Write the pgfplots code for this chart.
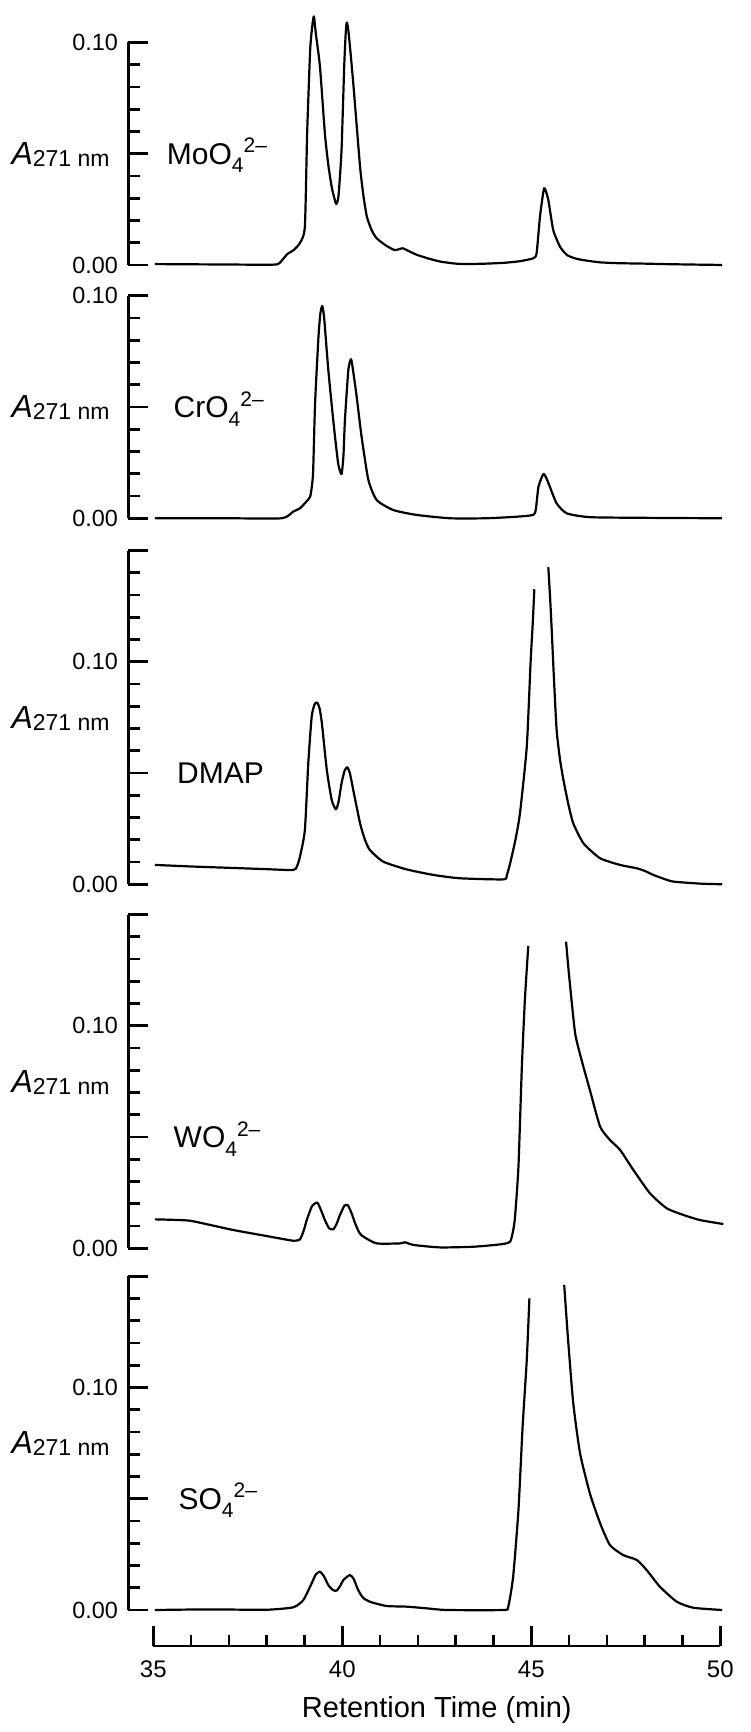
\documentclass[border=0pt]{standalone}
\usepackage{fontspec}
\setmainfont{Liberation Sans}
\usepackage{pgfplots}
\pgfplotsset{compat=1.18}

% label helpers
\newcommand{\absl}{{\fontsize{16}{16}\selectfont\itshape A}\raisebox{-1pt}{\fontsize{11.5}{12}\selectfont 271 nm}}
\newcommand{\ion}[1]{{\fontsize{15}{15}\selectfont #1\raisebox{-4.2pt}{\fontsize{10.5}{10}\selectfont 4}\raisebox{5.8pt}{\fontsize{10.5}{10}\selectfont 2--}}}

\pgfplotsset{
  panel/.style={scale only axis, width=296pt, xmin=34.339, xmax=50, ymin=0,
    clip=false, anchor=south west, axis x line=none, axis y line=left,
    axis line style={line width=1.3pt,-}, tick style={line width=1.3pt,black},
    tick align=inside, major tick length=10pt, minor tick length=6pt,
    scaled y ticks=false,
    yticklabel style={font=\fontsize{11.7}{12}\selectfont, inner sep=0pt, xshift=-5pt}},
  short/.style={panel, height=111.25pt, ymax=0.10, ytick={0,0.05,0.10},
    yticklabels={0.00,{},0.10}, minor ytick={0.01,0.02,0.03,0.04,0.06,0.07,0.08,0.09}},
  tall/.style={panel, height=166.875pt, ymax=0.15, ytick={0,0.05,0.10,0.15},
    yticklabels={0.00,{},0.10,{}},
    minor ytick={0.01,0.02,0.03,0.04,0.06,0.07,0.08,0.09,0.11,0.12,0.13,0.14}},
  trace/.style={black, line width=1.1pt, line join=round, mark=none, smooth, tension=0.35},
}

\begin{document}
\begin{tikzpicture}
\useasboundingbox (0,0) rectangle (375pt,866pt);

% MoO4
\begin{axis}[short, at={(64.15pt,733.5pt)}]
\addplot[trace] coordinates {(35.04,0.0004)(36.0,0.0003)(37.0,0.0002)(38.0,0.0001)(38.3,0.0004)(38.45,0.003)(38.55,0.005)(38.7,0.0065)(38.88,0.0099)(39.01,0.0172)(39.07,0.059)(39.15,0.0966)(39.21,0.108)(39.25,0.1117)(39.30,0.104)(39.41,0.089)(39.54,0.059)(39.63,0.045)(39.72,0.035)(39.79,0.030)(39.84,0.0274)(39.90,0.031)(39.98,0.0517)(40.05,0.089)(40.09,0.104)(40.12,0.109)(40.17,0.104)(40.29,0.0817)(40.47,0.0442)(40.56,0.031)(40.65,0.0217)(40.78,0.0155)(40.91,0.012)(41.15,0.0088)(41.38,0.0067)(41.50,0.0071)(41.60,0.0075)(41.75,0.0063)(41.98,0.0045)(42.3,0.0028)(42.6,0.0015)(43.0,0.0006)(43.3,0.0004)(43.8,0.0006)(44.3,0.001)(44.7,0.0017)(45.05,0.003)(45.14,0.0053)(45.23,0.0217)(45.34,0.0345)(45.45,0.0292)(45.58,0.0157)(45.76,0.0082)(45.94,0.0045)(46.15,0.003)(46.37,0.0022)(46.8,0.0012)(47.3,0.0008)(48.0,0.0006)(48.5,0.0004)(49.2,0.0002)(50.05,0.0)};
\node[anchor=base east, inner sep=0pt, xshift=-9.15pt, yshift=-5.3pt] at (rel axis cs:0,0.5) {\absl};
\node[anchor=base west, inner sep=0pt, yshift=-5.3pt] at (axis cs:35.35,0.05) {\ion{MoO}};
\end{axis}

% CrO4
\begin{axis}[short, at={(64.15pt,606.85pt)}]
\addplot[trace] coordinates {(35.04,0.0)(37.0,0.0)(38.4,0.0)(38.70,0.003)(38.88,0.0045)(39.05,0.0075)(39.15,0.0097)(39.20,0.015)(39.23,0.0217)(39.28,0.0517)(39.37,0.0816)(39.42,0.092)(39.47,0.0954)(39.52,0.090)(39.63,0.0667)(39.76,0.0442)(39.89,0.0247)(39.98,0.0199)(40.03,0.028)(40.07,0.0442)(40.16,0.0667)(40.23,0.0715)(40.28,0.067)(40.38,0.0547)(40.51,0.0367)(40.69,0.0172)(40.91,0.0082)(41.35,0.0037)(41.97,0.0015)(42.85,0.0)(43.8,0.0)(44.61,0.0007)(45.05,0.0015)(45.12,0.004)(45.19,0.0142)(45.32,0.0199)(45.40,0.018)(45.49,0.0142)(45.67,0.0067)(45.94,0.0022)(46.55,0.0005)(48.0,0.0002)(50.05,0.0)};
\node[anchor=base east, inner sep=0pt, xshift=-9.15pt, yshift=-5.3pt] at (rel axis cs:0,0.5) {\absl};
\node[anchor=base west, inner sep=0pt, yshift=-5.3pt] at (axis cs:35.53,0.05) {\ion{CrO}};
\end{axis}

% DMAP
\begin{axis}[tall, at={(64.15pt,423.85pt)}]
\addplot[trace] coordinates {(35.04,0.0087)(36.0,0.0080)(37.0,0.0074)(38.0,0.0068)(38.70,0.0064)(38.80,0.008)(38.88,0.0124)(39.01,0.0244)(39.10,0.0544)(39.19,0.0753)(39.27,0.081)(39.34,0.0816)(39.40,0.079)(39.46,0.0724)(39.59,0.0514)(39.72,0.0379)(39.83,0.0337)(39.90,0.037)(39.98,0.0454)(40.06,0.051)(40.13,0.0526)(40.20,0.050)(40.29,0.0424)(40.47,0.0274)(40.60,0.020)(40.73,0.0154)(41.08,0.0102)(41.70,0.0067)(42.41,0.0042)(43.11,0.0027)(44.26,0.0022)(44.35,0.004)(44.44,0.0094)(44.58,0.020)(44.70,0.0319)(44.88,0.0618)(44.98,0.0993)(45.04,0.118)(45.08,0.1326)};
\addplot[trace] coordinates {(45.45,0.1425)(45.50,0.128)(45.54,0.1143)(45.60,0.092)(45.67,0.0693)(45.76,0.056)(45.85,0.0469)(45.98,0.036)(46.11,0.0274)(46.38,0.0184)(46.82,0.0117)(47.35,0.0087)(47.79,0.0072)(48.0,0.006)(48.23,0.0042)(48.5,0.0025)(48.76,0.0012)(49.46,0.0003)(50.05,0.0)};
\node[anchor=base east, inner sep=0pt, xshift=-9.15pt, yshift=-5.3pt] at (rel axis cs:0,0.5) {\absl};
\node[anchor=base west, inner sep=0pt, yshift=-5.3pt] at (axis cs:35.62,0.05) {\fontsize{15}{15}\selectfont DMAP};
\end{axis}

% WO4
\begin{axis}[tall, at={(64.15pt,241.85pt)}]
\addplot[trace] coordinates {(35.04,0.0130)(35.5,0.0128)(35.97,0.0124)(36.5,0.0105)(37.12,0.0082)(38.0,0.0055)(38.70,0.0034)(38.88,0.0040)(38.98,0.008)(39.06,0.0127)(39.20,0.019)(39.34,0.0205)(39.44,0.017)(39.54,0.0127)(39.65,0.009)(39.76,0.0085)(39.85,0.011)(39.94,0.0150)(40.05,0.019)(40.14,0.0195)(40.24,0.016)(40.34,0.0112)(40.45,0.007)(40.56,0.0052)(40.91,0.0022)(41.53,0.0022)(41.66,0.0027)(41.88,0.0015)(42.58,0.0004)(43.47,0.0007)(44.2,0.0018)(44.44,0.003)(44.52,0.008)(44.57,0.0142)(44.66,0.0367)(44.75,0.0816)(44.83,0.1116)(44.92,0.1359)};
\addplot[trace] coordinates {(45.92,0.1378)(45.97,0.128)(46.02,0.1191)(46.16,0.0966)(46.33,0.0846)(46.55,0.0711)(46.82,0.0547)(47.08,0.0487)(47.35,0.0442)(47.70,0.0352)(48.14,0.0247)(48.58,0.0180)(49.02,0.0150)(49.46,0.0127)(50.08,0.0109)};
\node[anchor=base east, inner sep=0pt, xshift=-9.15pt, yshift=-5.3pt] at (rel axis cs:0,0.5) {\absl};
\node[anchor=base west, inner sep=0pt, yshift=-5.3pt] at (axis cs:35.53,0.05) {\ion{WO}};
\end{axis}

% SO4
\begin{axis}[tall, at={(64.15pt,61pt)}]
\addplot[trace] coordinates {(35.04,0.0)(36.0,0.0002)(37.0,0.0002)(38.0,0.0001)(38.70,0.0012)(38.97,0.0045)(39.19,0.012)(39.30,0.016)(39.41,0.0172)(39.52,0.015)(39.63,0.0112)(39.75,0.009)(39.85,0.0087)(39.95,0.011)(40.03,0.0135)(40.20,0.0157)(40.30,0.014)(40.42,0.009)(40.55,0.0055)(40.73,0.0037)(41.17,0.0018)(41.70,0.0015)(42.2,0.0008)(42.76,0.0)(44.26,0.0)(44.39,0.0015)(44.52,0.015)(44.66,0.0449)(44.77,0.0824)(44.88,0.1124)(44.95,0.1401)};
\addplot[trace] coordinates {(45.87,0.1461)(45.92,0.134)(45.98,0.1199)(46.11,0.0929)(46.29,0.0704)(46.55,0.0524)(46.82,0.039)(47.08,0.0292)(47.43,0.0247)(47.79,0.0225)(48.05,0.018)(48.40,0.0105)(48.85,0.0037)(49.29,0.001)(50.05,0.0)};
\node[anchor=base east, inner sep=0pt, xshift=-9.15pt, yshift=-5.3pt] at (rel axis cs:0,0.5) {\absl};
\node[anchor=base west, inner sep=0pt, yshift=-5.3pt] at (axis cs:35.66,0.05) {\ion{SO}};
\end{axis}

% shared time axis
\begin{axis}[scale only axis, width=283.5pt, height=1pt, at={(76.65pt,43pt)}, anchor=south west,
  xmin=35, xmax=50, ymin=0, ymax=1, axis y line=none, axis x line=bottom,
  axis line style={line width=1.3pt,-}, tick style={line width=1.3pt,black},
  tick align=inside, major tick length=10pt, minor tick length=5.5pt,
  xtick={35,40,45,50}, xticklabels={35,40,45,50},
  minor xtick={36,37,38,39,41,42,43,44,46,47,48,49},
  xticklabel style={font=\fontsize{12}{12}\selectfont, anchor=base, inner sep=0pt, yshift=-15.5pt},
  clip=false]
\addplot[draw=none] coordinates {(35,0)(50,0)};
\node[anchor=base, inner sep=0pt, yshift=-35.5pt] at (rel axis cs:0.5,0) {\fontsize{14.5}{15}\selectfont Retention Time (min)};
\end{axis}
\end{tikzpicture}
\end{document}
